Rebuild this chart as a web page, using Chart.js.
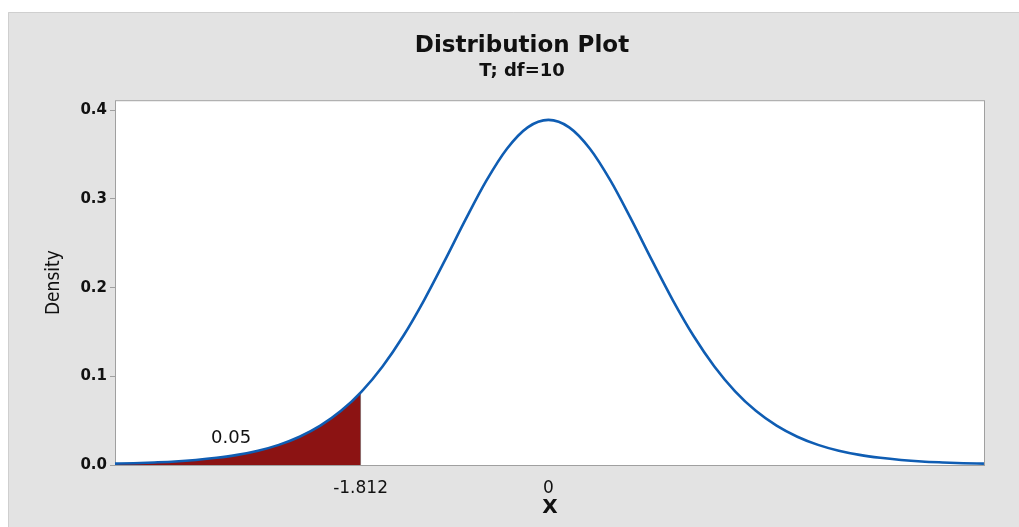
<!DOCTYPE html>
<html>
<head>
<meta charset="utf-8">
<title>Distribution Plot</title>
<script src="https://cdn.jsdelivr.net/npm/chart.js@4"></script>
<style>
  html, body { margin: 0; padding: 0; background: #fff; }
  #wrap { width: 1019px; height: 527px; position: relative; }
</style>
</head>
<body>
<div id="wrap"><canvas id="distChart"></canvas></div>
<script>
// valeurs (loi T, df=10)
const xValues = [-4.2, -4.0, -3.8, -3.6, -3.4, -3.2, -3.0, -2.8, -2.6, -2.4, -2.2, -2.0, -1.8, -1.6, -1.4, -1.2, -1.0, -0.8, -0.6, -0.4, -0.2,
  0, 0.2, 0.4, 0.6, 0.8, 1.0, 1.2, 1.4, 1.6, 1.8, 2.0, 2.2, 2.4, 2.6, 2.8, 3.0, 3.2, 3.4, 3.6, 3.8, 4.0, 4.2];
const densityValues = [0.0015, 0.0020, 0.0029, 0.0040, 0.0057, 0.0081, 0.0114, 0.0161, 0.0227, 0.0319, 0.0444, 0.0611, 0.0831, 0.1111, 0.1454, 0.1857, 0.2304, 0.2766, 0.3203, 0.3566, 0.3807,
  0.3891, 0.3807, 0.3566, 0.3203, 0.2766, 0.2304, 0.1857, 0.1454, 0.1111, 0.0831, 0.0611, 0.0444, 0.0319, 0.0227, 0.0161, 0.0114, 0.0081, 0.0057, 0.0040, 0.0029, 0.0020, 0.0015];

// zone ombrée (queue gauche jusqu'à -1.812)
const tailX = [-4.2, -4.0, -3.8, -3.6, -3.4, -3.2, -3.0, -2.8, -2.6, -2.4, -2.2, -2.0, -1.812];
const tailDensity = [0.0015, 0.0020, 0.0029, 0.0040, 0.0057, 0.0081, 0.0114, 0.0161, 0.0227, 0.0319, 0.0444, 0.0611, 0.0816];
const criticalValue = -1.812;
const tailArea = '0.05';

const xTickValues = [-1.812, 0];
const yTickValues = [0.0, 0.1, 0.2, 0.3, 0.4];

const toPoints = (xs, ys) => xs.map((x, i) => ({ x: x, y: ys[i] }));

// fond gris + zone blanche du graphe
const backgroundPlugin = {
  id: 'fond',
  beforeDraw(chart) {
    const { ctx, chartArea } = chart;
    ctx.save();
    ctx.fillStyle = '#ffffff';
    ctx.fillRect(0, 0, chart.width, chart.height);
    ctx.fillStyle = '#e3e3e3';
    ctx.fillRect(8, 12, chart.width - 8, chart.height - 12);
    ctx.strokeStyle = '#cfcfcf';
    ctx.lineWidth = 1;
    ctx.beginPath();
    ctx.moveTo(8.5, chart.height);
    ctx.lineTo(8.5, 12.5);
    ctx.lineTo(chart.width, 12.5);
    ctx.stroke();
    ctx.fillStyle = '#ffffff';
    ctx.fillRect(chartArea.left, chartArea.top, chartArea.width, chartArea.height);
    ctx.restore();
  },
  beforeDatasetsDraw(chart) {
    const { ctx, chartArea } = chart;
    ctx.save();
    ctx.strokeStyle = '#a0a0a0';
    ctx.lineWidth = 1;
    ctx.strokeRect(chartArea.left + 0.5, chartArea.top + 0.5, chartArea.width - 1, chartArea.height);
    ctx.restore();
  }
};

// étiquette de l'aire de la queue
const areaLabelPlugin = {
  id: 'aire',
  afterDatasetsDraw(chart) {
    const { ctx, scales } = chart;
    ctx.save();
    ctx.font = '18px "DejaVu Sans", sans-serif';
    ctx.fillStyle = '#111';
    ctx.textAlign = 'center';
    ctx.textBaseline = 'middle';
    ctx.fillText(tailArea, scales.x.getPixelForValue(-3.06), scales.y.getPixelForValue(0.0305));
    ctx.restore();
  }
};

const ctx = document.getElementById('distChart').getContext('2d');
new Chart(ctx, {
  type: 'line',
  data: {
    datasets: [
      {
        data: toPoints(xValues, densityValues),
        borderColor: '#0f5db3',
        borderWidth: 2.6,
        pointRadius: 0,
        cubicInterpolationMode: 'monotone',
        fill: false,
        order: 0
      },
      {
        data: toPoints(tailX, tailDensity),
        borderColor: 'rgba(0,0,0,0)',
        borderWidth: 0,
        backgroundColor: '#8c1313',
        pointRadius: 0,
        cubicInterpolationMode: 'monotone',
        fill: 'origin',
        order: 1
      },
      {
        data: [{ x: criticalValue, y: 0 }, { x: criticalValue, y: tailDensity[tailDensity.length - 1] }],
        borderColor: '#8a8a8a',
        borderWidth: 1,
        pointRadius: 0,
        fill: false,
        order: 2
      }
    ]
  },
  options: {
    responsive: true,
    maintainAspectRatio: false,
    animation: false,
    layout: { padding: { left: 25, right: 0, top: 0, bottom: 0 } },
    plugins: {
      legend: { display: false },
      tooltip: { enabled: false },
      title: {
        display: true,
        text: 'Distribution Plot',
        color: '#111',
        font: { family: '"DejaVu Sans", sans-serif', size: 23, weight: 'bold' },
        padding: { top: 32, bottom: 0 }
      },
      subtitle: {
        display: true,
        text: 'T; df=10',
        color: '#111',
        font: { family: '"DejaVu Sans", sans-serif', size: 18, weight: 'bold' },
        padding: { top: 1, bottom: 18 }
      }
    },
    scales: {
      x: {
        type: 'linear',
        min: -4.18,
        max: 4.21,
        grid: { display: false },
        border: { display: false },
        afterFit(scale) { scale.height = 62; },
        afterBuildTicks(scale) { scale.ticks = xTickValues.map(v => ({ value: v })); },
        ticks: {
          autoSkip: false,
          maxRotation: 0,
          padding: 5,
          color: '#111',
          font: { family: '"DejaVu Sans", sans-serif', size: 17 },
          callback: v => String(v)
        },
        title: {
          display: true,
          text: 'X',
          color: '#111',
          font: { family: '"DejaVu Sans", sans-serif', size: 20, weight: 'bold' },
          padding: { top: 0, bottom: 7 }
        }
      },
      y: {
        min: 0,
        max: 0.4113,
        grid: { display: true, drawOnChartArea: false, drawTicks: true, tickLength: 5, color: '#a0a0a0' },
        border: { display: false },
        afterFit(scale) { scale.width = 90; },
        afterBuildTicks(scale) { scale.ticks = yTickValues.map(v => ({ value: v })); },
        ticks: {
          padding: 3,
          color: '#111',
          font: { family: '"DejaVu Sans", sans-serif', size: 15, weight: 'bold' },
          callback: v => v.toFixed(1)
        },
        title: {
          display: true,
          text: 'Density',
          color: '#111',
          font: { family: '"DejaVu Sans Condensed", "Liberation Sans Narrow", sans-serif', size: 19 },
          padding: { top: 18, bottom: 0 }
        }
      },
      // axe vide à droite pour la marge du cadre
      yRight: {
        position: 'right',
        grid: { display: false },
        border: { display: false },
        ticks: { display: false },
        afterFit(scale) { scale.width = 34; }
      }
    }
  },
  plugins: [backgroundPlugin, areaLabelPlugin]
});
</script>
</body>
</html>
